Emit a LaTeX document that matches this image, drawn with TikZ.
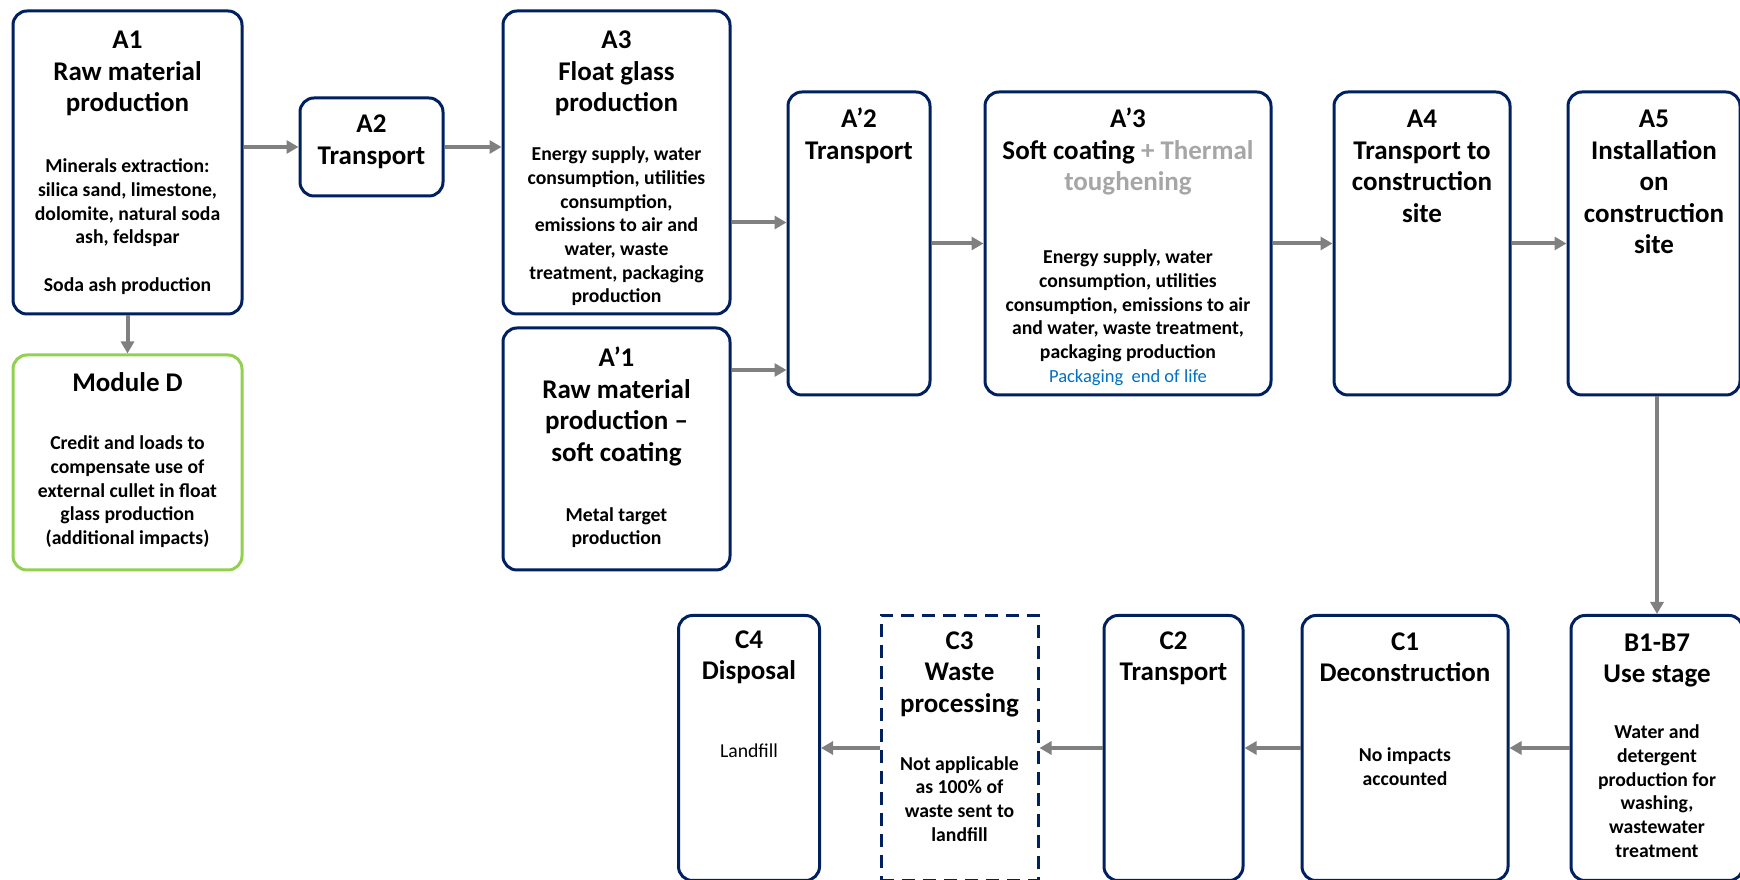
\documentclass[tikz,border=0pt]{standalone}
\usepackage{fontspec}
\setmainfont{Carlito}
\usepackage{tikz}
\usepackage{xcolor}
\usetikzlibrary{arrows.meta}

\definecolor{navy}{RGB}{0,32,96}
\definecolor{dgreen}{RGB}{146,208,80}
\definecolor{arrowgray}{RGB}{128,128,128}
\definecolor{ltgray}{RGB}{166,166,166}
\definecolor{pkblue}{RGB}{0,112,192}

\newcommand{\ttl}{\fontsize{27}{31.5}\selectfont}
\newcommand{\bdy}{\fontsize{19.7}{23.7}\selectfont}
% width, height, first baseline, title, gap, body
\newcommand{\blocktext}[6]{\begin{minipage}[t][#2][t]{#1}\centering
\rule{0pt}{#3}\ttl #4\par\vspace{#5}{\bdy #6\par}\end{minipage}}

\tikzstyle{blockn} = [rectangle, draw=navy, line width=3pt, rounded corners=14pt, inner sep=0pt, font=\bfseries]
\tikzstyle{blockg} = [blockn, draw=dgreen]
\tikzstyle{blockd} = [blockn, sharp corners, dash pattern=on 13pt off 8pt]
\tikzstyle{line} = [draw, arrowgray, line width=4pt, -{Triangle[length=12pt,width=13pt]}]

\begin{document}
\begin{tikzpicture}[x=1pt, y=1pt, node distance=244pt]
\clip (0,0) rectangle (1740,880);

\node [blockn] (A1) at (127.5,717.5) {\blocktext{229pt}{303pt}{38pt}{A1\\Raw material\\production}{37pt}{Minerals extraction:\\silica sand, limestone,\\dolomite, natural soda\\ash, feldspar\\[23.7pt]Soda ash production}};
\node [blockn, right of=A1, yshift=15.5pt] (A2) {\blocktext{143pt}{98pt}{35pt}{A2\\Transport}{0pt}{}};
\node [blockn, right of=A1, node distance=489pt] (A3) {\blocktext{227pt}{303pt}{38pt}{A3\\Float glass\\production}{25pt}{Energy supply, water\\consumption, utilities\\consumption,\\emissions to air and\\water, waste\\treatment, packaging\\production}};
\node [blockg, below of=A1, node distance=300pt] (D) {\blocktext{229pt}{215pt}{37pt}{Module D}{34pt}{Credit and loads to\\compensate use of\\external cullet in float\\glass production\\(additional impacts)}};
\node [blockn, below of=A3, node distance=286.5pt] (Ap1) {\blocktext{227pt}{242pt}{39pt}{A’1\\Raw material\\production –\\soft coating}{36pt}{Metal target\\production}};

\node [blockn, right of=A3, node distance=242.5pt, yshift=-81pt] (Ap2) {\blocktext{142pt}{303pt}{36pt}{A’2\\Transport}{0pt}{}};
\node [blockn, right of=Ap2, node distance=269pt] (Ap3) {\blocktext{286pt}{303pt}{36pt}{A’3\\Soft coating \textcolor{ltgray}{+ Thermal}\\\textcolor{ltgray}{toughening}}{49pt}{Energy supply, water\\consumption, utilities\\consumption, emissions to air\\and water, waste treatment,\\packaging production\\{\mdseries\color{pkblue}\fontsize{18.5}{23.7}\selectfont Packaging~ end of life}}};
\node [blockn, right of=Ap3, node distance=294pt] (A4) {\blocktext{176pt}{303pt}{36pt}{A4\\Transport to\\construction\\site}{0pt}{}};
\node [blockn, right of=A4, node distance=232pt] (A5) {\blocktext{172pt}{303pt}{36pt}{A5\\Installation\\on\\construction\\site}{0pt}{}};

\node [blockn, below of=A5, node distance=504.5pt, xshift=3pt] (B) {\blocktext{172pt}{265pt}{36pt}{B1-B7\\Use stage}{32pt}{Water and\\detergent\\production for\\washing,\\wastewater\\treatment}};
\node [blockn, left of=B, node distance=252pt] (C1) {\blocktext{206pt}{265pt}{35pt}{C1\\Deconstruction}{56pt}{No impacts\\accounted}};
\node [blockn, left of=C1, node distance=231.5pt] (C2) {\blocktext{139pt}{265pt}{34pt}{C2\\Transport}{0pt}{}};
\node [blockd, left of=C2, node distance=214pt] (C3) {\blocktext{157pt}{265pt}{34pt}{C3\\Waste\\processing}{34pt}{Not applicable\\as 100\% of\\waste sent to\\landfill}};
\node [blockn, left of=C3, node distance=210.5pt] (C4) {\blocktext{141pt}{265pt}{33pt}{C4\\Disposal}{54pt}{\mdseries Landfill}};

\path [line] (A1.east |- A2.west) -- (A2.west);
\path [line] (A2.east) -- (A2.east -| A3.west);
\path [line] (A1) -- (D);
\path [line] ([yshift=-60pt]A3.east) -- ([yshift=-60pt]A3.east -| Ap2.west);
\path [line] ([yshift=79pt]Ap1.east) -- ([yshift=79pt]Ap1.east -| Ap2.west);
\path [line] (Ap2) -- (Ap3);
\path [line] (Ap3) -- (A4);
\path [line] (A4) -- (A5);
\path [line] (A5.south -| B.north) -- (B.north);

\path [line] (B) -- (C1);
\path [line] (C1) -- (C2);
\path [line] (C2) -- (C3);
\path [line] (C3) -- (C4);

\end{tikzpicture}
\end{document}
